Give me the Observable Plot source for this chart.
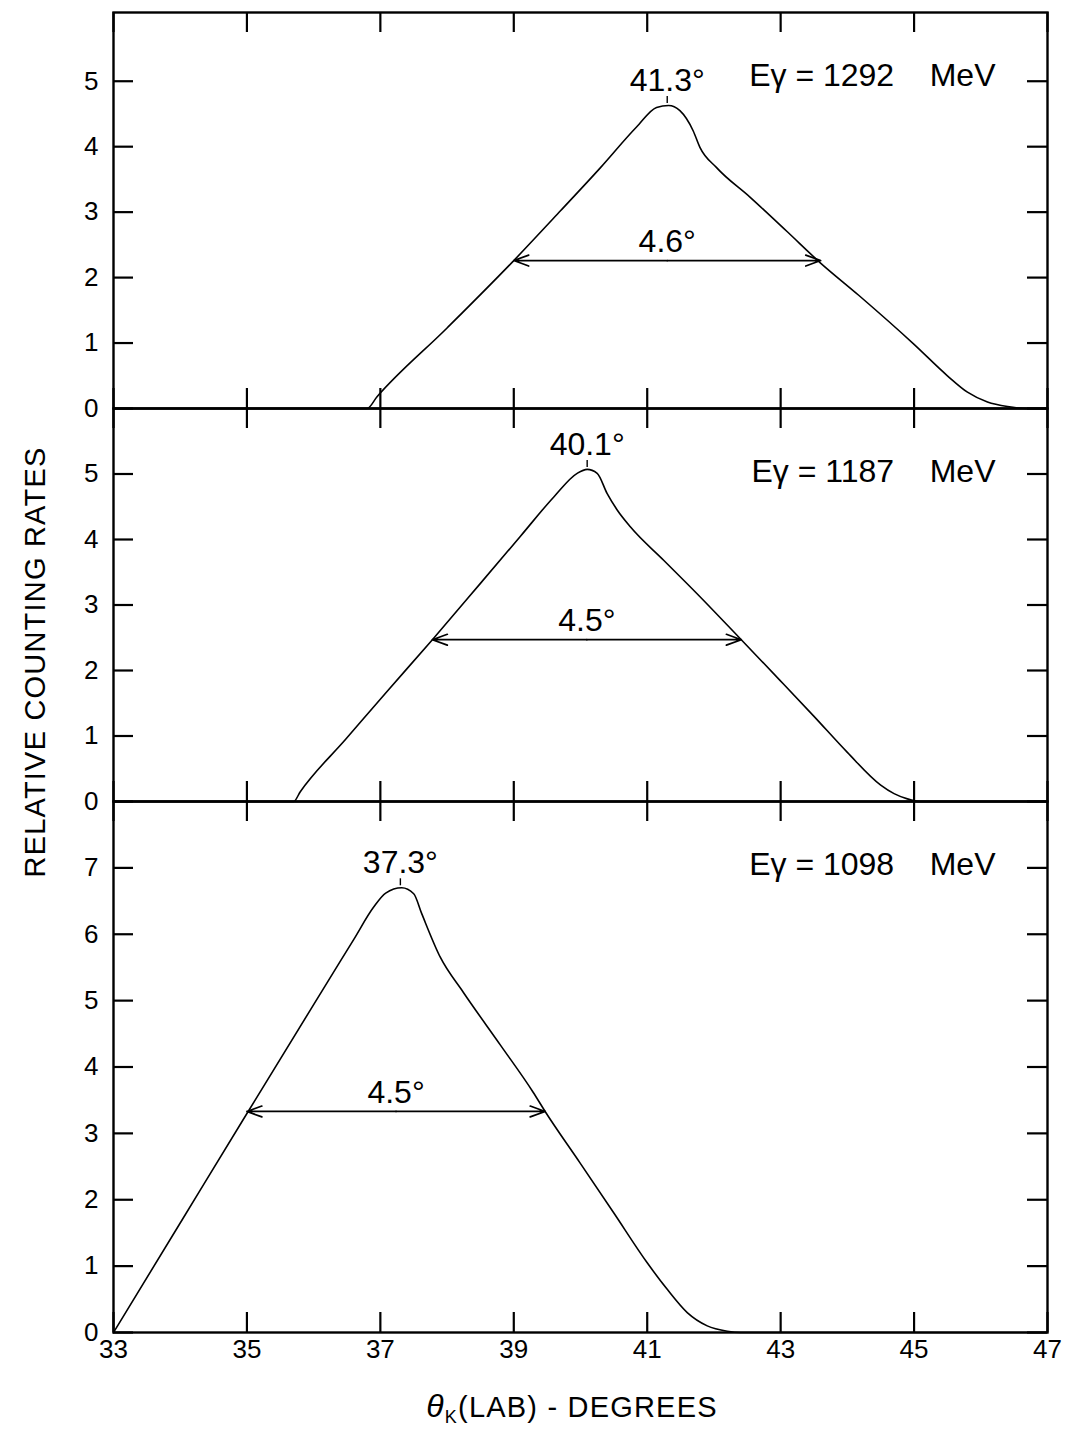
<!DOCTYPE html>
<html>
<head>
<meta charset="utf-8">
<script src="https://cdn.jsdelivr.net/npm/d3@7"></script>
<script src="https://cdn.jsdelivr.net/npm/@observablehq/plot@0.6"></script>
<style>
  body { margin: 0; background: #fff; }
  #wrap { position: relative; width: 1069px; height: 1437px; font-family: "Liberation Sans", Arial, sans-serif; color: #000; }
  #wrap svg { display: block; }
  #ylabel { position: absolute; left: 35px; top: 662px; transform: translate(-50%, -50%) rotate(-90deg); font-size: 29px; letter-spacing: 1.2px; white-space: nowrap; }
  #xlabel { position: absolute; left: 572px; top: 1408px; transform: translate(-50%, -50%); font-size: 29px; letter-spacing: 1.2px; white-space: nowrap; }
  #xlabel i { font-size: 32px; }
  #xlabel sub { font-size: 18px; }
</style>
</head>
<body>
<div id="wrap">
  <div id="panels"></div>
  <div id="ylabel">RELATIVE COUNTING RATES</div>
  <div id="xlabel"><i>θ</i><sub>K</sub>(LAB) - DEGREES</div>
</div>
<script>
// ---- Data ----
const theta1292 = [33, 36.8, 36.95, 38.0, 39.0, 39.7, 40.3, 40.84, 41.14, 41.32, 41.49, 41.69, 41.79, 42.04, 42.54, 43.1, 43.59, 44.17, 45.0, 45.5, 45.8, 46.1, 46.4, 46.7, 47];
const rate1292  = [0, 0, 0.18, 1.23, 2.26, 3.02, 3.68, 4.30, 4.60, 4.63, 4.55, 4.24, 3.99, 3.68, 3.23, 2.70, 2.23, 1.73, 0.98, 0.50, 0.25, 0.10, 0.03, 0, 0];

const theta1187 = [33, 35.7, 35.8, 36.48, 37.1, 37.78, 38.5, 39.1, 39.6, 39.95, 40.1, 40.25, 40.4, 40.55, 40.75, 41.25, 41.74, 42.41, 42.99, 43.5, 44.0, 44.5, 44.7, 44.9, 45.1, 47];
const rate1187  = [0, 0, 0.15, 0.95, 1.68, 2.47, 3.33, 4.05, 4.65, 5.01, 5.07, 5.01, 4.70, 4.45, 4.19, 3.68, 3.18, 2.47, 1.85, 1.30, 0.75, 0.25, 0.12, 0.04, 0, 0];

const theta1098 = [33, 34.0, 35.0, 36.0, 36.6, 36.9, 37.08, 37.32, 37.5, 37.62, 37.9, 38.24, 38.8, 39.29, 39.47, 39.99, 40.5, 41.0, 41.3, 41.6, 41.9, 42.2, 42.4, 47];
const rate1098  = [0, 1.65, 3.30, 4.94, 5.92, 6.41, 6.62, 6.70, 6.61, 6.31, 5.65, 5.13, 4.33, 3.62, 3.33, 2.56, 1.80, 1.05, 0.65, 0.30, 0.10, 0.02, 0, 0];

const energies  = [1292, 1187, 1098];
const peakTheta = [41.3, 40.1, 37.3];
const peakRate  = [4.63, 5.07, 6.70];
const fwhmDeg   = [4.6, 4.5, 4.5];
const halfRate  = [2.26, 2.47, 3.33];
const fwhmLeft  = [39.0, 37.78, 35.0];
const fwhmRight = [43.6, 42.41, 39.47];

const xTicks    = [33, 35, 37, 39, 41, 43, 45, 47];
const yTicksTop = [0, 1, 2, 3, 4, 5];
const yTicksMid = [0, 1, 2, 3, 4, 5];
const yTicksBot = [0, 1, 2, 3, 4, 5, 6, 7];
const yMax      = [6.05, 6.0, 8.0];

// ---- Drawing ----
const thetas = [theta1292, theta1187, theta1098];
const rates  = [rate1292, rate1187, rate1098];
const yTicks = [yTicksTop, yTicksMid, yTicksBot];

const W = 1069, mL = 113, mR = 22, FW = W - mL - mR;
const layout = [
  {marginTop: 12, frameH: 396, marginBottom: 0, showX: false},
  {marginTop: 0, frameH: 393, marginBottom: 0, showX: false},
  {marginTop: 0, frameH: 531, marginBottom: 50, showX: true}
];
const TICK = 20, SW = 2.2, FS = 26;

// small vertical stroke used to mark the peak position
const peakMark = {draw(ctx, size) { const r = Math.sqrt(size / Math.PI); ctx.moveTo(0, -r); ctx.lineTo(0, r); }};

function panel(i) {
  const L = layout[i];
  const series = thetas[i].map((t, j) => ({theta: t, rate: rates[i][j]}));
  const mid = (fwhmLeft[i] + fwhmRight[i]) / 2;
  const marks = [
    Plot.frame({stroke: "#000", strokeWidth: 2.4}),
    Plot.ruleY(yTicks[i], {insetRight: FW - TICK, stroke: "#000", strokeWidth: SW}),
    Plot.ruleY(yTicks[i], {insetLeft: FW - TICK, stroke: "#000", strokeWidth: SW}),
    Plot.ruleX(xTicks, {insetBottom: L.frameH - TICK, stroke: "#000", strokeWidth: SW}),
    Plot.ruleX(xTicks, {insetTop: L.frameH - TICK, stroke: "#000", strokeWidth: SW}),
    Plot.axisY(yTicks[i], {tickSize: 0, tickPadding: 15, fontSize: FS, tickFormat: d => String(d), label: null}),
    Plot.line(series, {x: "theta", y: "rate", curve: "monotone-x", stroke: "#000", strokeWidth: 1.6}),
    Plot.arrow([i], {x1: mid, x2: fwhmLeft[i], y1: halfRate[i], y2: halfRate[i], stroke: "#000", strokeWidth: 1.7, headLength: 14, headAngle: 40}),
    Plot.arrow([i], {x1: mid, x2: fwhmRight[i], y1: halfRate[i], y2: halfRate[i], stroke: "#000", strokeWidth: 1.7, headLength: 14, headAngle: 40}),
    Plot.text([i], {x: mid, y: halfRate[i], text: d => `${fwhmDeg[d].toFixed(1)}°`, dy: -19, fontSize: 32, fill: "#000"}),
    Plot.text([i], {x: peakTheta[i], y: peakRate[i], text: d => `${peakTheta[d].toFixed(1)}°`, dy: -25, fontSize: 32, fill: "#000"}),
    Plot.dot([i], {x: peakTheta[i], y: peakRate[i], symbol: peakMark, r: 3.5, dy: -6, stroke: "#000", strokeWidth: 1.4, fill: "none"}),
    Plot.text([i], {frameAnchor: "top-right", text: d => `Eγ = ${energies[d]}    MeV`, dx: -52, dy: 63, fontSize: 32, textAnchor: "end", lineAnchor: "middle", fill: "#000"})
  ];
  if (L.showX) marks.push(Plot.axisX(xTicks, {tickSize: 0, tickPadding: 7, fontSize: FS, label: null}));
  return Plot.plot({
    width: W,
    height: L.marginTop + L.frameH + L.marginBottom,
    marginLeft: mL,
    marginRight: mR,
    marginTop: L.marginTop,
    marginBottom: L.marginBottom,
    x: {domain: [33, 47], axis: null},
    y: {domain: [0, yMax[i]], axis: null},
    style: {fontFamily: "Liberation Sans, Arial, sans-serif", background: "transparent", overflow: "visible", color: "#000"},
    marks
  });
}

const host = document.getElementById("panels");
[0, 1, 2].forEach(i => host.appendChild(panel(i)));
</script>
</body>
</html>
